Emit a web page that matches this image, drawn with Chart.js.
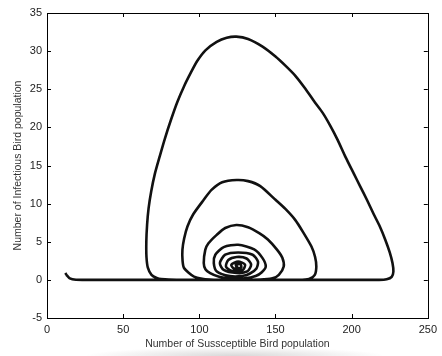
<!DOCTYPE html>
<html>
<head>
<meta charset="utf-8">
<script src="https://cdn.jsdelivr.net/npm/chart.js@4.4.0/dist/chart.umd.min.js"></script>
<style>
  html, body { margin: 0; padding: 0; }
  body {
    width: 442px; height: 356px; overflow: hidden;
    background: radial-gradient(ellipse 150px 9px at 235px 356px, #d8d8d8, #ffffff);
  }
  #wrap { width: 442px; height: 356px; position: relative; }
</style>
</head>
<body>
<div id="wrap"><canvas id="myChart" width="442" height="356"></canvas></div>
<script>
'use strict';

// susceptible (x) and infectious (y) along the trajectory
let susceptible = [12, 13, 15, 19, 25, 100, 200, 218, 223, 226.3, 227.4, 226.8, 225, 222, 218.5, 214.5, 210, 205.5, 201.5, 196, 190.7, 186, 181, 175.8, 169.5, 162.9, 156.5, 150, 141.5, 132, 124.3, 118, 111.4, 104, 98.6, 94.5, 90, 85.5, 81.4, 77.5, 74, 70.8, 68.4, 66.7, 65.7, 65.2, 65.3, 66.2, 68.6, 72, 75, 85,
  165, 172, 175.8, 176.8, 176, 173.6, 168, 162.9, 156.5, 150, 140, 132, 124.5, 115, 108, 102.9, 96, 92.2, 90, 88.9, 89, 90, 96.5, 107,
  140, 148, 152.2, 155.4, 154.5, 151.1, 145, 139.3, 132, 124.3, 117, 111.4, 106, 103.9, 102.9, 104, 107.1, 113, 120,
  130, 137, 141, 143.6, 141.5, 136, 125.5, 116, 110.5, 109.5, 111.5, 120,
  128, 133, 137.5, 138.5, 135, 125.5, 117, 113.5, 116, 124.5,
  131.5, 134, 131, 124.5, 119, 117.5, 121, 128.5, 130, 125.5, 121, 122.5, 127.5, 127, 124, 124.5, 125.5];
let infectious = [0.9, 0.6, 0.2, 0.02, 0, 0, 0, 0, 0.08, 0.4, 1.1, 2.2, 3.6, 5.3, 7, 8.6, 10.5, 12.3, 13.9, 16.1, 18.4, 20.2, 21.9, 23.3, 25.1, 26.8, 28.1, 29.3, 30.6, 31.6, 31.9, 31.75, 31.2, 30.1, 28.7, 27.2, 25.4, 23.3, 21, 18.6, 16.2, 13.9, 11.6, 9.4, 7.2, 5, 3, 1.6, 0.66, 0.25, 0.1, 0,
  0, 0.1, 0.66, 1.75, 3, 4.37, 6.3, 7.87, 9.3, 10.5, 12.3, 12.95, 13.1, 12.8, 11.8, 10.5, 8.6, 7, 5.4, 3.94, 2.5, 1.54, 0.43, 0.05,
  0.05, 0.2, 0.66, 1.75, 2.9, 3.94, 5.3, 6.13, 6.9, 7.2, 6.8, 5.9, 4.8, 3.94, 2.2, 1.4, 0.88, 0.4, 0.2,
  0.2, 0.5, 1, 1.75, 2.85, 4, 4.6, 4.3, 3.3, 2.2, 1.1, 0.5,
  0.5, 0.8, 1.5, 2.4, 3.3, 3.6, 3.3, 2.2, 1.3, 0.9,
  1.1, 2, 2.8, 3, 2.6, 1.75, 1.2, 1.3, 2, 2.4, 2, 1.5, 1.6, 2.05, 2, 1.7, 1.8];

let xTicks = [0, 50, 100, 150, 200, 250];
let yTicks = [-5, 0, 5, 10, 15, 20, 25, 30, 35];

let points = [];
for (let i = 0; i < susceptible.length; i++) {
  points.push({ x: susceptible[i], y: infectious[i] });
}

// matlab style box with inward ticks on all four sides
let boxTicks = {
  id: 'boxTicks',
  afterDraw(chart) {
    let ctx = chart.ctx;
    let a = chart.chartArea;
    let xs = chart.scales.x;
    let ys = chart.scales.y;
    ctx.save();
    ctx.strokeStyle = '#000';
    ctx.lineWidth = 1;
    ctx.beginPath();
    for (let i = 0; i < xTicks.length; i++) {
      let px = Math.round(xs.getPixelForValue(xTicks[i])) + 0.5;
      ctx.moveTo(px, a.bottom); ctx.lineTo(px, a.bottom - 4);
      ctx.moveTo(px, a.top); ctx.lineTo(px, a.top + 4);
    }
    for (let i = 0; i < yTicks.length; i++) {
      let py = Math.round(ys.getPixelForValue(yTicks[i])) + 0.5;
      ctx.moveTo(a.left, py); ctx.lineTo(a.left + 4, py);
      ctx.moveTo(a.right, py); ctx.lineTo(a.right - 4, py);
    }
    ctx.stroke();
    ctx.strokeRect(Math.round(a.left) + 0.5, Math.round(a.top) + 0.5, Math.round(a.right - a.left), Math.round(a.bottom - a.top));
    ctx.restore();
  }
};

let fontFam = '"Liberation Sans", Arial, sans-serif';

new Chart(document.getElementById('myChart').getContext('2d'), {
  type: 'scatter',
  data: {
    datasets: [{
      data: points,
      showLine: true,
      borderColor: '#111',
      borderWidth: 2.6,
      pointRadius: 0,
      tension: 0.25,
      fill: false
    }]
  },
  options: {
    responsive: false,
    animation: false,
    layout: { padding: { top: 13, right: 7, left: 0, bottom: 2 } },
    plugins: { legend: { display: false }, tooltip: { enabled: false } },
    scales: {
      x: {
        min: 0, max: 250,
        afterBuildTicks(scale) { scale.ticks = xTicks.map(v => ({ value: v })); },
        afterFit(scale) { scale.height = 36; },
        grid: { display: false, drawTicks: false },
        border: { display: false },
        ticks: { color: '#222', padding: 5, font: { family: fontFam, size: 11 } },
        title: {
          display: true, text: 'Number of Sussceptible Bird population',
          color: '#333', font: { family: fontFam, size: 10.5 }, padding: { top: 0, bottom: 4 }
        }
      },
      y: {
        min: -5, max: 35,
        afterBuildTicks(scale) { scale.ticks = yTicks.map(v => ({ value: v })); },
        afterFit(scale) { scale.width = 47; },
        grid: { display: false, drawTicks: false },
        border: { display: false },
        ticks: { color: '#222', padding: 5, font: { family: fontFam, size: 11 } },
        title: {
          display: true, text: 'Number of Infectious Bird population',
          color: '#333', font: { family: fontFam, size: 10.5 }, padding: { top: 12, bottom: 0 }
        }
      }
    }
  },
  plugins: [boxTicks]
});
</script>
</body>
</html>
